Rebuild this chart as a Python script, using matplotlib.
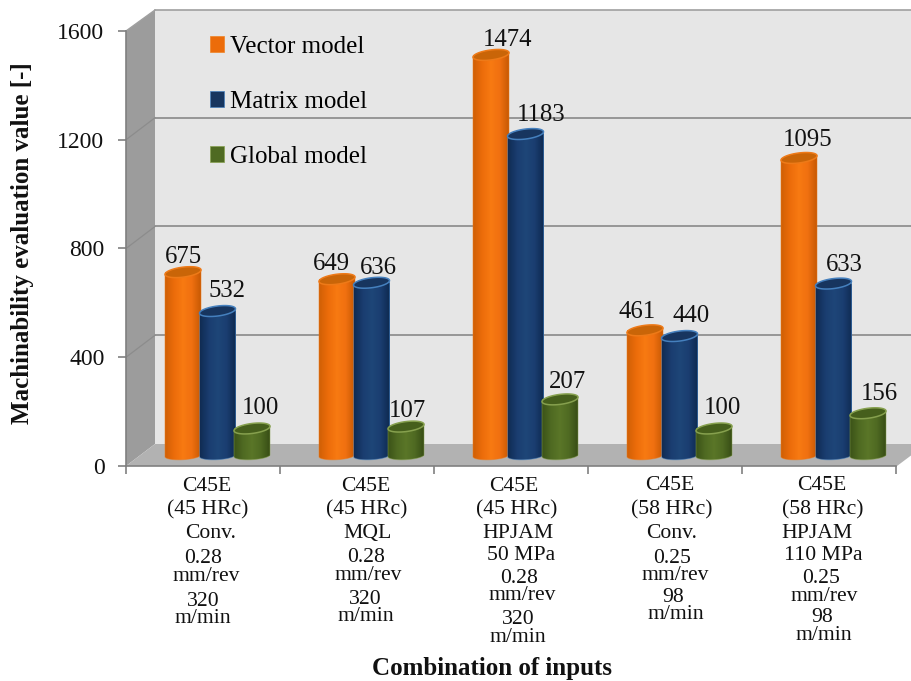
import numpy as np
import matplotlib
matplotlib.use("Agg")
import matplotlib.pyplot as plt
from matplotlib.colors import LinearSegmentedColormap
from matplotlib.patches import Polygon, Patch

plt.rcParams['font.family'] = ['Liberation Serif', 'DejaVu Serif']

series_names = ["Vector model", "Matrix model", "Global model"]
vector_values = [675, 649, 1474, 461, 1095]
matrix_values = [532, 636, 1183, 440, 633]
global_values = [100, 107, 207, 100, 156]
y_ticks = [0, 400, 800, 1200, 1600]

cat_lines = [
    [("C45E", 207, 485), ("(45 HRc)", 208, 508), ("Conv.", 211, 532), ("0.28", 203, 557),
     ("mm/rev", 206, 575), ("320", 203, 600), ("m/min", 203, 617)],
    [("C45E", 366, 485), ("(45 HRc)", 367, 508), ("MQL", 367, 532), ("0.28", 366, 556),
     ("mm/rev", 368, 574), ("320", 365, 598), ("m/min", 366, 615)],
    [("C45E", 514, 485), ("(45 HRc)", 517, 508), ("HPJAM", 518, 532), ("50 MPa", 521, 554),
     ("0.28", 519, 577), ("mm/rev", 522, 594), ("320", 518, 618), ("m/min", 518, 636)],
    [("C45E", 670, 484), ("(58 HRc)", 672, 508), ("Conv.", 672, 532), ("0.25", 672, 557),
     ("mm/rev", 675, 574), ("98", 673, 596), ("m/min", 676, 613)],
    [("C45E", 822, 484), ("(58 HRc)", 823, 508), ("HPJAM", 817, 532), ("110 MPa", 823, 554),
     ("0.25", 821, 577), ("mm/rev", 824, 595), ("98", 822, 616), ("m/min", 824, 634)],
]

W, H = 912, 681
AX_L, AX_R, AX_B, AX_T = 126, 896, 466, 31
fig = plt.figure(figsize=(W / 100, H / 100), dpi=100, facecolor="white")
ax = fig.add_axes([AX_L / W, 1 - AX_B / H, (AX_R - AX_L) / W, (AX_B - AX_T) / H])
ax.set_xlim(-0.5, 4.5)
ax.set_ylim(0, 1600)
ax.patch.set_visible(False)

PX_X = 154.0                 # pixels per category
PX_Y = (AX_B - AX_T) / 1600  # pixels per value unit


def dx(p):
    return p / PX_X


def dy(p):
    return p / PX_Y


def X(p):
    return -0.5 + (p - AX_L) / PX_X


def Y(p):
    return (AX_B - p) / PX_Y


# walls and floor
wx0, wx1, wy0, wy1 = X(155), X(913), Y(444), Y(10)
ax.add_patch(Polygon([(wx0, wy0), (wx1, wy0), (wx1, wy1), (wx0, wy1)], closed=True,
                     fc="#E6E6E6", ec="none", zorder=1, clip_on=False))
ax.plot([wx0, wx1], [wy1, wy1], color="#A0A0A0", lw=1.2, zorder=1.5, clip_on=False)
ax.add_patch(Polygon([(X(126), 0), (wx0, wy0), (wx0, wy1), (X(126), 1600)], closed=True,
                     fc="#9C9C9C", ec="none", zorder=1, clip_on=False))
ax.add_patch(Polygon([(X(126), 0), (X(897), 0), (X(913), Y(454)), (wx1, wy0), (wx0, wy0)], closed=True,
                     fc="#B2B2B2", ec="none", zorder=1, clip_on=False))
back_shift = Y(444)
for t in y_ticks[1:-1]:
    ax.plot([wx0, wx1], [t + back_shift, t + back_shift], color="#969696", lw=1.4, zorder=1.5, clip_on=False)
    ax.plot([X(126), wx0], [t, t + back_shift], color="#8C8C8C", lw=0.9, zorder=1.5, clip_on=False)
ax.plot([X(126), wx0], [1600, wy1], color="#A0A0A0", lw=1.0, zorder=1.5, clip_on=False)

# axes lines and ticks
for s in ("top", "right"):
    ax.spines[s].set_visible(False)
for s in ("left", "bottom"):
    ax.spines[s].set_color("#808080")
    ax.spines[s].set_linewidth(1.2)
    ax.spines[s].set_zorder(2)
ax.set_yticks(y_ticks)
ax.set_yticklabels([str(t) for t in y_ticks], fontsize=17, color="#111111")
ax.set_xticks(np.arange(-0.5, 5.0, 1.0))
ax.set_xticklabels([])
ax.tick_params(axis="both", color="#808080", width=1.2, length=5.5)
ax.tick_params(axis="y", pad=10)

# cylinders
series = [vector_values, matrix_values, global_values]
offsets_px = [-20.0, 14.5, 49.0]
body_cols = [["#D06006", "#EC6C0A", "#F87A12", "#F07010", "#C85A04"],
             ["#102C54", "#1A3D70", "#1E4678", "#1A3D70", "#0E2A50"],
             ["#3C5318", "#4F6A22", "#5A7628", "#4F6A22", "#384E16"]]
cap_cols = ["#C96508", "#17355F", "#465F1C"]
rim_cols = ["#EE7A18", "#4580BE", "#86A04E"]
BAR_W = 36.0
CAP_H = 10.0
BOT_H = 8.0
TILT = 2.2
BASE = 38.0
t = np.linspace(0, 2 * np.pi, 73)
tb = np.linspace(np.pi, 2 * np.pi, 37)
label_off = [
    [(0, 15), (-6, 15), (17, 15), (-8, 18), (9, 18)],
    [(9, 20), (6.5, 15), (15.5, 19), (11.5, 20.5), (10.5, 19)],
    [(8, 20.5), (1, 16), (7, 17), (8, 20.5), (11, 19)],
]
z = 3.0
for g in range(5):
    for s, vals in enumerate(series):
        v = vals[g]
        cx = g + dx(offsets_px[s])
        w = dx(BAR_W)
        ax.bar(cx, v, width=w, bottom=BASE, color=body_cols[s][2], linewidth=0, zorder=z)
        top = BASE + v
        bx = cx + w / 2 * np.cos(tb)
        by = BASE + dy(BOT_H / 2) * np.sin(tb) + dy(1.0) * np.cos(tb)
        body = np.vstack([[cx - w / 2, top - dy(TILT)], np.column_stack([bx, by]), [cx + w / 2, top + dy(TILT)]])
        poly = Polygon(body, closed=True, fc="none", ec="none", zorder=z + 0.1)
        ax.add_patch(poly)
        cmap = LinearSegmentedColormap.from_list("b", body_cols[s])
        im = ax.imshow(np.linspace(0, 1, 64).reshape(1, -1), cmap=cmap, aspect="auto",
                       extent=[cx - w / 2, cx + w / 2, BASE - dy(CAP_H), top + dy(TILT)],
                       zorder=z + 0.1, interpolation="bilinear")
        im.set_clip_path(poly)
        ax.plot(np.r_[bx[0], bx, bx[-1]], np.r_[top - dy(TILT), by, top + dy(TILT)],
                color=rim_cols[s], lw=0.7, alpha=0.5, zorder=z + 0.2)
        cxs = cx + w / 2 * np.cos(t)
        cys = top + dy(CAP_H / 2) * np.sin(t) + dy(TILT) * np.cos(t)
        ax.add_patch(Polygon(np.column_stack([cxs, cys]), closed=True, fc=cap_cols[s],
                             ec=rim_cols[s], lw=1.1, zorder=z + 0.3))
        ox, oy = label_off[s][g]
        ax.annotate(str(v), xy=(cx, top), xytext=(ox * 0.72, oy * 0.72), textcoords="offset points",
                    ha="center", va="center", fontsize=17.8, color="#111111", zorder=200,
                    annotation_clip=False)
        z += 1

ax.set_xlim(-0.5, 4.5)
ax.set_ylim(0, 1600)


def figtext(x, y, s, **kw):
    fig.text(x / W, 1 - y / H, s, ha=kw.pop("ha", "center"), va="center", color="#111111", **kw)


for lines in cat_lines:
    for s, x, y in lines:
        figtext(x, y + 1.5, s, fontsize=15.6)

figtext(23, 243, "Machinability evaluation value [-]", rotation=90, fontsize=18, fontweight="bold")
figtext(492, 669, "Combination of inputs", fontsize=18, fontweight="bold")

handles = [Patch(fc=c, ec=r, lw=0.5) for c, r in zip(["#EC6C0A", "#17355F", "#4F6A22"], ["#F08424", "#4580BE", "#86A04E"])]
leg = ax.legend(handles, series_names, loc="upper left", bbox_to_anchor=(210 / W, 1 - 36 / H),
                bbox_transform=fig.transFigure, frameon=False, fontsize=18,
                handlelength=0.58, handleheight=0.58, handletextpad=0.24,
                labelspacing=1.32, borderpad=0, borderaxespad=0)
leg.set_zorder(300)

fig.savefig("out.png", dpi=100)
